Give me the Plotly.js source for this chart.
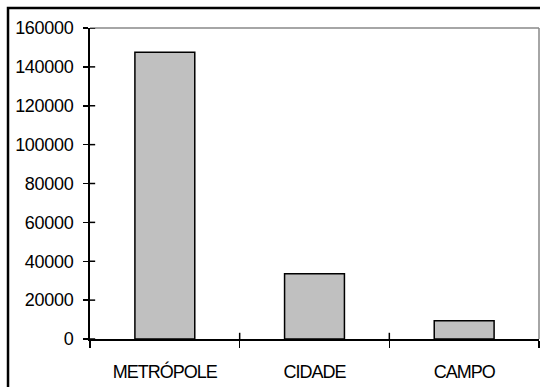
<!DOCTYPE html>
<html>
<head>
<meta charset="utf-8">
<script src="https://cdn.plot.ly/plotly-3.0.1.min.js"></script>
<style>
html,body{margin:0;padding:0;background:#fff;}
#chart{width:540px;height:387px;}
.xtick text{letter-spacing:-1px;}
.ytick text{letter-spacing:-0.3px;}
</style>
</head>
<body>
<div id="chart"></div>
<script>
const categories = ["METRÓPOLE", "CIDADE", "CAMPO"];
const values = [147500, 33600, 9400];
const yTickVals = [0, 20000, 40000, 60000, 80000, 100000, 120000, 140000, 160000];
const yTickText = ["0", "20000", "40000", "60000", "80000", "100000", "120000", "140000", "160000"];

const font = {family: "Liberation Sans, Arial, sans-serif", size: 18, color: "#000"};

const shapes = [];
// outer frame
shapes.push({type:"rect", xref:"paper", yref:"paper", x0:-0.1826, x1:1.03, y0:1.0643, y1:-0.5,
  line:{color:"#000", width:2.5}, fillcolor:"rgba(0,0,0,0)", layer:"above"});
// gray top and right plot border
shapes.push({type:"line", xref:"paper", yref:"paper", x0:0, x1:1, y0:1, y1:1, line:{color:"#888", width:1.5}});
shapes.push({type:"line", xref:"paper", yref:"paper", x0:1, x1:1, y0:0, y1:1, line:{color:"#888", width:1.5}});
// inside halves of crossing y ticks
yTickVals.forEach(v => {
  shapes.push({type:"line", xref:"paper", yref:"y", x0:0, x1:0.0115, y0:v, y1:v, line:{color:"#000", width:1.5}});
});
// inside halves of crossing x ticks (category boundaries)
for (let i = 1; i < categories.length; i++) {
  shapes.push({type:"line", xref:"x", yref:"paper", x0:i-0.5, x1:i-0.5, y0:0, y1:0.02, line:{color:"#000", width:1.5}});
}

const data = [{
  type: "bar",
  x: categories,
  y: values,
  marker: {color: "#c0c0c0", line: {color: "#000", width: 1.5}},
  hoverinfo: "none"
}];

const layout = {
  width: 540, height: 387,
  margin: {l: 90, r: 1, t: 28, b: 48, pad: 0},
  paper_bgcolor: "#fff", plot_bgcolor: "#fff",
  font: font,
  showlegend: false,
  bargap: 0.6,
  xaxis: {
    type: "category",
    showline: true, linecolor: "#000", linewidth: 2,
    ticks: "outside", ticklen: 7, tickwidth: 1.5, tickcolor: "#000",
    tickson: "boundaries",
    showgrid: false, zeroline: false,
    tickfont: font,
    ticklabelstandoff: 15
  },
  yaxis: {
    range: [0, 160000],
    tickvals: yTickVals, ticktext: yTickText,
    showline: true, linecolor: "#000", linewidth: 2,
    ticks: "outside", ticklen: 5, tickwidth: 1.5, tickcolor: "#000",
    showgrid: false, zeroline: false,
    tickfont: font,
    ticklabelstandoff: 6
  },
  shapes: shapes
};

Plotly.newPlot("chart", data, layout, {displayModeBar: false, staticPlot: true});
</script>
</body>
</html>
